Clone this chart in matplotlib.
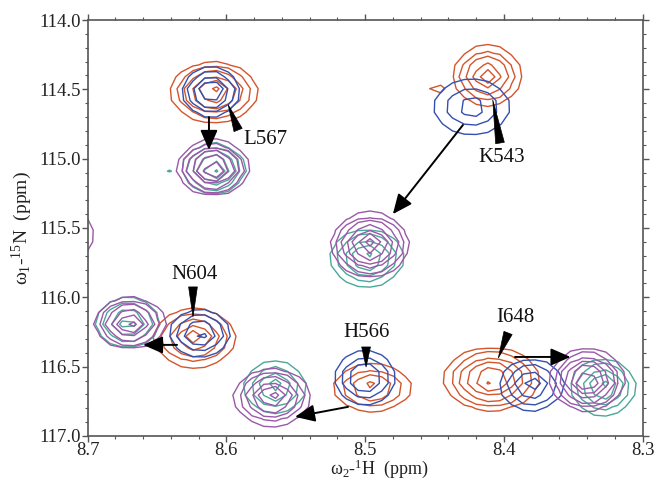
import numpy as np
import matplotlib
matplotlib.use('Agg')
import matplotlib.pyplot as plt
from matplotlib.ticker import MultipleLocator, FormatStrFormatter

plt.rcParams['font.family'] = ['Liberation Serif', 'DejaVu Serif']
plt.rcParams['mathtext.fontset'] = 'custom'
plt.rcParams['mathtext.rm'] = 'Liberation Serif'
plt.rcParams['mathtext.it'] = 'Liberation Serif:italic'

# ---- peak lists per spectrum: 1H shift, 15N shift, outer half-widths, number of contours
red_h = [8.609, 8.412, 8.449, 8.623, 8.495, 8.409]
red_n = [114.52, 114.40, 114.505, 116.293, 116.653, 116.59]
red_wh = [0.031, 0.024, 0.005, 0.029, 0.028, 0.034]
red_wn = [0.21, 0.21, 0.05, 0.205, 0.162, 0.22]
red_k = [6, 5, 1, 5, 4, 6]

blue_h = [8.611, 8.423, 8.619, 8.500, 8.380]
blue_n = [114.519, 114.627, 116.257, 116.58, 116.632]
blue_wh = [0.020, 0.027, 0.0216, 0.0216, 0.0227]
blue_wn = [0.17, 0.195, 0.162, 0.187, 0.18]
blue_k = [5, 3, 4, 4, 4]

purple_h = [8.6096, 8.4965, 8.6694, 8.567, 8.340, 8.724]
purple_n = [115.067, 115.62, 116.185, 116.72, 116.595, 115.55]
purple_wh = [0.0252, 0.0274, 0.025, 0.027, 0.026, 0.028]
purple_wn = [0.19, 0.224, 0.177, 0.198, 0.216, 0.23]
purple_k = [7, 7, 6, 6, 7, 2]

teal_h = [8.609, 8.4986, 8.671, 8.565, 8.3286, 8.644]
teal_n = [115.07, 115.716, 116.18, 116.646, 116.646, 115.074]
teal_wh = [0.022, 0.026, 0.0227, 0.0216, 0.0227, 0.004]
teal_wn = [0.17, 0.20, 0.173, 0.18, 0.198, 0.03]
teal_k = [6, 5, 4, 4, 5, 1]

# ---- residue labels, wedge pointers, shift arrows
labels = ['L567', 'K543', 'N604', 'H566', 'I648']
label_h = [8.572, 8.4013, 8.6226, 8.4986, 8.392]
label_n = [114.865, 114.995, 115.838, 116.257, 116.149]
wedge_base_h = [8.5915, 8.4028, 8.624, 8.4993, 8.397]
wedge_base_n = [114.793, 114.887, 115.925, 116.358, 116.257]
wedge_tip_h = [8.5986, 8.408, 8.624, 8.4993, 8.404]
wedge_tip_n = [114.613, 114.577, 116.141, 116.502, 116.437]
arrow_from_h = [8.6125, 8.4295, 8.6355, 8.5123, 8.392]
arrow_from_n = [114.70, 114.757, 116.343, 116.79, 116.43]
arrow_to_h = [8.6125, 8.480, 8.660, 8.5505, 8.352]
arrow_to_n = [114.937, 115.40, 116.343, 116.862, 116.43]

colors = {'red': '#d4552c', 'blue': '#3450b0', 'purple': '#9a58a8', 'teal': '#4aa898'}

fig = plt.figure(figsize=(6.56, 4.8), dpi=100)
ax = fig.add_axes([0.1334, 0.0917, 0.8463, 0.8666])

H = np.arange(8.25, 8.76, 0.0085)
N = np.arange(113.9, 117.12, 0.085)
HH, NN = np.meshgrid(H, N)


def field(hs, ns, whs, wns, ks):
    Z = np.zeros_like(HH)
    for h, n, wh, wn, k in zip(hs, ns, whs, wns, ks):
        r = np.sqrt(((HH - h) / wh) ** 2 + ((NN - n) / wn) ** 2)
        Z = np.maximum(Z, 2.0 ** (k * (1 - r)))
    return Z


levels = 2.0 ** np.arange(0, 9)
spectra = [
    ('red', red_h, red_n, red_wh, red_wn, red_k),
    ('blue', blue_h, blue_n, blue_wh, blue_wn, blue_k),
    ('teal', teal_h, teal_n, teal_wh, teal_wn, teal_k),
    ('purple', purple_h, purple_n, purple_wh, purple_wn, purple_k),
]
for name, hs, ns, whs, wns, ks in spectra:
    Z = field(hs, ns, whs, wns, ks)
    ax.contour(HH, NN, Z, levels=levels, colors=colors[name], linewidths=1.0)

for i, lab in enumerate(labels):
    ax.text(label_h[i], label_n[i], lab, ha='center', va='center', fontsize=15, color='#111111')
    ax.annotate('', xy=(wedge_tip_h[i], wedge_tip_n[i]), xytext=(wedge_base_h[i], wedge_base_n[i]),
                arrowprops=dict(arrowstyle='wedge,tail_width=0.42,shrink_factor=0.5', fc='black', ec='black',
                                lw=0.5, shrinkA=0, shrinkB=0, mutation_scale=15))
    ax.annotate('', xy=(arrow_to_h[i], arrow_to_n[i]), xytext=(arrow_from_h[i], arrow_from_n[i]),
                arrowprops=dict(arrowstyle='-|>,head_length=0.8,head_width=0.35', fc='black', ec='black',
                                lw=1.4, shrinkA=0, shrinkB=0, mutation_scale=15))

ax.set_xlim(8.7, 8.3)
ax.set_ylim(117.0, 114.0)
ax.xaxis.set_major_locator(MultipleLocator(0.1))
ax.xaxis.set_minor_locator(MultipleLocator(0.02))
ax.yaxis.set_major_locator(MultipleLocator(0.5))
ax.yaxis.set_minor_locator(MultipleLocator(0.1))
ax.xaxis.set_major_formatter(FormatStrFormatter('%.1f'))
ax.yaxis.set_major_formatter(FormatStrFormatter('%.1f'))
ax.tick_params(which='both', direction='out', top=True, right=True, colors='#555555',
               labelcolor='#222222', labelsize=13.5, pad=1)
ax.tick_params(axis='x', which='both', pad=0)
ax.tick_params(which='major', length=4, width=1)
ax.tick_params(which='minor', length=2.5, width=0.8)
for s in ax.spines.values():
    s.set_color('#555555')
    s.set_linewidth(1.2)

ax.set_xlabel('ω$_2$-$^1$H  (ppm)', fontsize=13, color='#222222', va='top')
ax.xaxis.set_label_coords(0.525, -0.052)
ax.set_ylabel('ω$_1$-$^{15}$N  (ppm)', fontsize=14, color='#222222', va='center')
ax.yaxis.set_label_coords(-0.118, 0.5)

fig.savefig('out.png', dpi=100)
